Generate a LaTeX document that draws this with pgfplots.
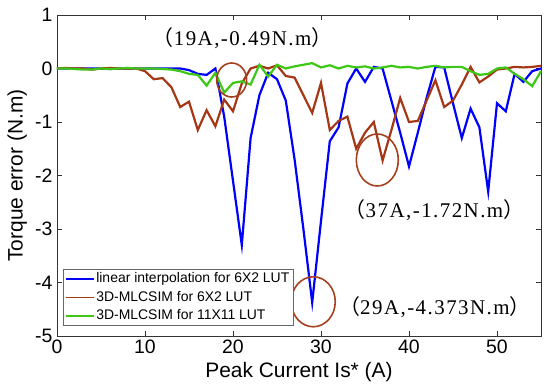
\documentclass[border=0pt]{standalone}
\usepackage{fontspec}
\setmainfont{Liberation Sans}
\newfontfamily\seriffont[LetterSpace=7]{Liberation Serif}
\newfontfamily\cjk{Noto Sans CJK SC}
\usepackage{pgfplots}
\pgfplotsset{compat=1.18}
\definecolor{cblue}{RGB}{0,0,255}
\definecolor{cbrown}{RGB}{165,55,22}
\definecolor{cgreen}{RGB}{60,200,20}
\definecolor{ccirc}{RGB}{165,65,30}
\newcommand{\ann}[1]{{\seriffont\fontsize{21}{24}\selectfont{\cjk （}#1{\cjk ）}}}

\pgfplotstableread{
x y
0 0
1 0
2 0
3 0
4 0
5 0
6 -0.01
7 0
8 0
9 0
10 0
11 0
12 0
13 0
14 0
15 -0.03
16 -0.1
17 -0.12
18 0
19 -0.9
20 -2.1
21 -3.3
22 -1.3
23 -0.5
24 -0.08
25 -0.2
26 -0.6
27 -1.7
28 -3.0
29 -4.373
30 -2.85
31 -1.36
32 -1.1
33 -0.28
34 0.0
35 -0.25
36 0.03
37 0.0
38 -0.6
39 -1.2
40 -1.83
41 -1.2
42 -0.55
43 0.03
44 0.02
45 -0.65
46 -1.3
47 -0.75
48 -1.1
49 -2.3
50 -0.65
51 -0.8
52 -0.1
53 -0.25
54 -0.05
55 0
}\linear

\pgfplotstableread{
x y
0 0
1 0.01
2 0
3 0
4 -0.02
5 0
6 0.01
7 0
8 0
9 0
10 -0.05
11 -0.2
12 -0.18
13 -0.35
14 -0.72
15 -0.62
16 -1.15
17 -0.78
18 -1.08
19 -0.58
20 -0.8
21 -0.28
22 0.0
23 0.05
24 0.0
25 0.06
26 -0.14
27 -0.17
28 -0.5
29 -0.83
30 -0.27
31 -1.15
32 -0.98
33 -0.9
34 -1.5
35 -1.2
36 -1.0
37 -1.72
38 -1.15
39 -0.55
40 -1.0
41 -0.98
42 -0.6
43 -0.22
44 -0.72
45 -0.6
46 -0.3
47 0.03
48 -0.26
49 -0.15
50 -0.02
51 0.0
52 0.03
53 0.02
54 0.03
55 0.05
}\mlsixtwo

\pgfplotstableread{
x y
0 0
1 0
2 -0.01
3 -0.02
4 -0.02
5 0
6 -0.01
7 0
8 0.01
9 0
10 0
11 0
12 -0.01
13 -0.02
14 -0.05
15 -0.1
16 -0.12
17 -0.32
18 -0.08
19 -0.45
20 -0.27
21 -0.24
22 -0.3
23 0.07
24 -0.15
25 0.07
26 0.0
27 0.04
28 0.07
29 0.1
30 0.02
31 0.06
32 0.0
33 0.05
34 0.02
35 0.04
36 0.0
37 0.02
38 0.05
39 0.02
40 0.03
41 0.0
42 0.03
43 0.05
44 0.02
45 0.03
46 0.03
47 -0.05
48 -0.12
49 -0.1
50 0.0
51 0.02
52 -0.1
53 -0.2
54 -0.33
55 -0.05
}\mlelevel

\begin{document}
\begin{tikzpicture}
\begin{axis}[
  scale only axis, width=484bp, height=321bp,
  xmin=0, xmax=55, ymin=-5, ymax=1,
  xtick={0,10,...,50}, ytick={-5,-4,...,1},
  clip=false,
  tick label style={font=\fontsize{19.5}{21}\selectfont},
  yticklabel style={xshift=-1bp},
  /pgf/number format/assume math mode=true,
  label style={font=\fontsize{21}{24}\selectfont},
  xlabel={Peak Current Is* (A)},
  ylabel={Torque error (N.m)},
  xlabel style={at={(axis description cs:0.5,-0.112)}, anchor=center},
  ylabel style={at={(axis description cs:-0.082,0.5)}, anchor=center},
  axis line style={black!80, line width=0.8bp},
  major tick length=5bp,
  tick style={black!80, line width=0.6bp},
  legend style={at={(axis description cs:0.0124,0.031)}, anchor=south west,
    draw=black!60, line width=0.6bp, fill=white,
    font=\fontsize{14}{16}\selectfont,
    inner xsep=2bp, inner ysep=1bp, row sep=1bp,
    nodes={inner sep=1.5bp, text height=11bp, text depth=3.5bp}},
  legend cell align=left,
  legend image code/.code={\draw[#1] (0bp,0bp) -- (28bp,0bp);},
  legend image post style={line width=1.5bp},
]
\coordinate (SW) at (rel axis cs:0,0);
\addplot[cblue, line width=2.2bp] table[x=x,y=y] {\linear};
\addlegendentry{linear interpolation for 6X2 LUT}
\addplot[cbrown, line width=2.2bp] table[x=x,y=y] {\mlsixtwo};
\addlegendentry{3D-MLCSIM for 6X2 LUT}
\addplot[cgreen, line width=2.2bp] table[x=x,y=y] {\mlelevel};
\addlegendentry{3D-MLCSIM for 11X11 LUT}
\draw[ccirc, line width=1.6bp] (axis cs:19.85,-0.215) ellipse [x radius=15bp, y radius=17bp];
\draw[ccirc, line width=1.6bp] (axis cs:36.4,-1.71) ellipse [x radius=21bp, y radius=26bp];
\draw[ccirc, line width=1.6bp] (axis cs:29.12,-4.36) ellipse [x radius=22bp, y radius=25bp];
\node at (axis cs:21.1,0.57) {\ann{19A,-0.49N.m}};
\node at (axis cs:42.9,-2.645) {\ann{37A,-1.72N.m}};
\node at (axis cs:42.95,-4.458) {\ann{29A,-4.373N.m}};
\end{axis}
\pgfresetboundingbox
\path (SW) ++(-57bp,-53bp) rectangle ++(550bp,389bp);
\end{tikzpicture}
\end{document}
